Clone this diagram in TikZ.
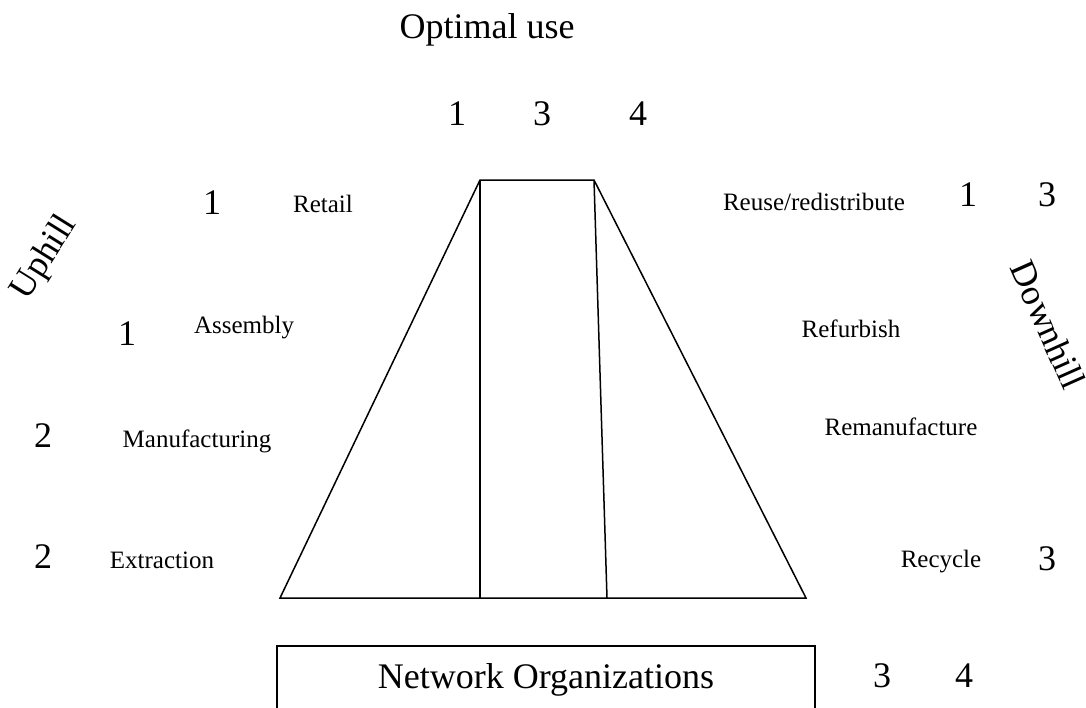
\documentclass[tikz,border=0pt]{standalone}
\usepackage{fontspec}
\setmainfont{Liberation Serif}

\begin{document}
\begin{tikzpicture}[x=1pt,y=-1pt,line width=1.5pt,
    big/.style={font=\fontsize{36}{40}\selectfont,inner sep=0pt,anchor=base},
    stage/.style={font=\fontsize{25}{30}\selectfont,inner sep=0pt,anchor=base}]
\useasboundingbox (0,0) rectangle (1086,707);

\node[big] (optimal) at (487,38) {Optimal use};
\node[big] (top1) at (457,125) {1};
\node[big] (top3) at (542,125) {3};
\node[big] (top4) at (638,125) {4};

\node[big,anchor=center,rotate=58] (uphill) at (45,258) {Uphill};
\node[big,anchor=center,rotate=-66] (downhill) at (1048,325) {Downhill};

% left side
\node[big] (n1a) at (212,214) {1};
\node[stage] (retail) at (323,212) {Retail};
\node[big] (n1b) at (127,345) {1};
\node[stage] (assembly) at (244,333) {Assembly};
\node[big] (n2a) at (43,447) {2};
\node[stage] (manuf) at (197,447) {Manufacturing};
\node[big] (n2b) at (43,568) {2};
\node[stage] (extract) at (162,568) {Extraction};

% right side
\node[stage] (reuse) at (814,210) {Reuse/redistribute};
\node[big] (n1c) at (968,206) {1};
\node[big] (n3a) at (1047,206) {3};
\node[stage] (refurb) at (851,337) {Refurbish};
\node[stage] (reman) at (901,435) {Remanufacture};
\node[stage] (recycle) at (941,567) {Recycle};
\node[big] (n3b) at (1047,570) {3};

% the hill
\coordinate (tl) at (480,180);
\coordinate (tr) at (594,180);
\coordinate (bl) at (280,598);
\coordinate (br) at (806,598);
\coordinate (bm1) at (480,598);
\coordinate (bm2) at (607,598);
\draw (bl) -- (tl) -- (tr) -- (br) -- cycle;
\draw (tl) -- (bm1);
\draw (tr) -- (bm2);

\node[draw,font=\fontsize{36}{40}\selectfont,minimum width=538pt,minimum height=68pt,
      anchor=north,inner sep=0pt] (netorg) at (546,645) {Network Organizations};
\node[big] (n3c) at (882,687) {3};
\node[big] (n4) at (964,687) {4};
\end{tikzpicture}
\end{document}
